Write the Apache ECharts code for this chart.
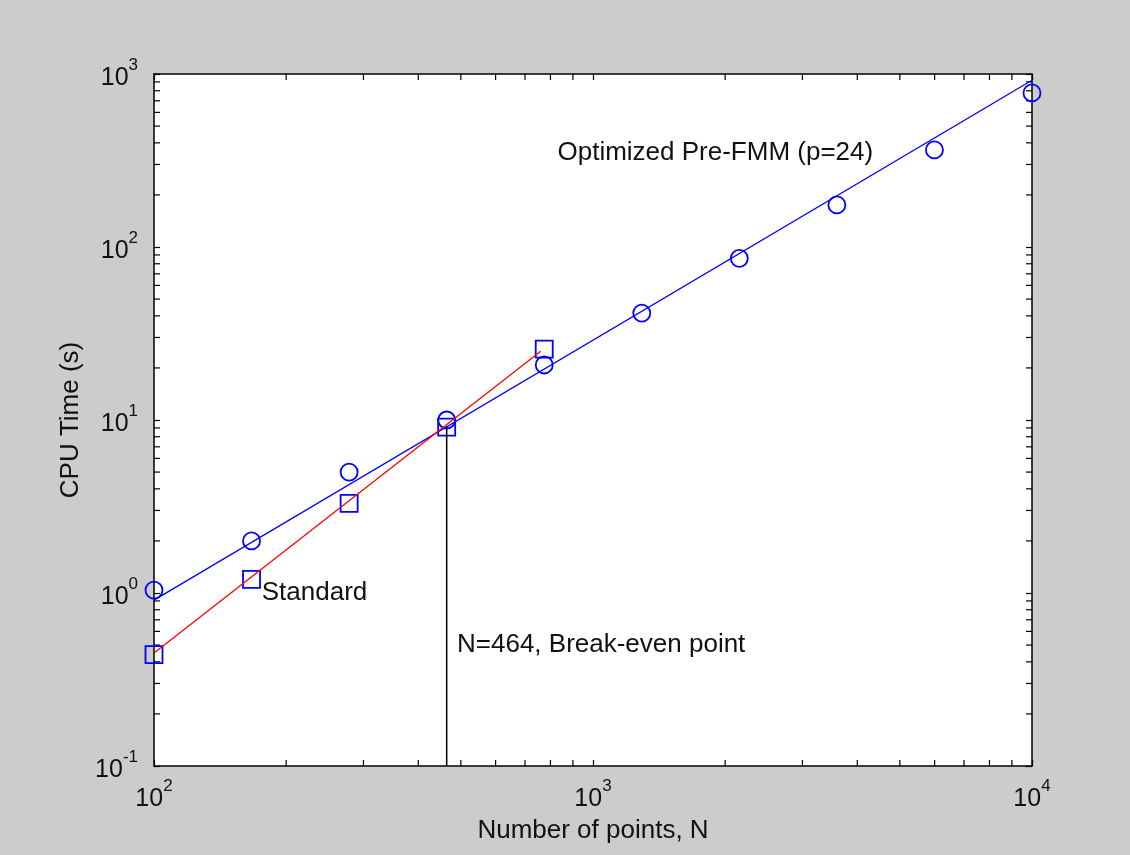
<!DOCTYPE html>
<html>
<head>
<meta charset="utf-8">
<title>CPU time vs number of points</title>
<script src="https://cdn.jsdelivr.net/npm/echarts@6/dist/echarts.min.js"></script>
<style>
  html, body { margin: 0; padding: 0; background: #cccccc; }
  #chart { width: 1130px; height: 855px; }
</style>
</head>
<body>
<div id="chart"></div>
<script>
// number of points (logspace 10^2 .. 10^4)
var nPoints = [100, 166.8, 278.3, 464.2, 774.3, 1291.5, 2154.4, 3593.8, 5994.8, 10000];
// measured CPU time, optimized pre-FMM (circles)
var tOptimized = [1.04, 2.0, 5.0, 10.0, 20.8, 41.5, 86, 175, 364, 777];
// measured CPU time, standard method (squares), first five sizes only
var nStandard = [100, 166.8, 278.3, 464.2, 774.3];
var tStandard = [0.44, 1.2, 3.3, 9.1, 25.7];
// fitted lines, end points
var fitOptimized = [[100, 0.91], [10000, 920]];
var fitStandard = [[100, 0.45], [760, 25]];
// break-even marker line
var breakEven = [[464.2, 0.1], [464.2, 9.2]];

// text annotations (data coordinates, left aligned)
var noteText = ['Optimized Pre-FMM (p=24)', 'Standard', 'N=464, Break-even point'];
var noteN = [830, 176, 490];
var noteT = [350, 1.0, 0.5];

// axis limits and minor tick values
var xRange = [100, 10000];
var yRange = [0.1, 1000];
var xMinor = [200, 300, 400, 500, 600, 700, 800, 900,
              2000, 3000, 4000, 5000, 6000, 7000, 8000, 9000];
var yMinor = [0.2, 0.3, 0.4, 0.5, 0.6, 0.7, 0.8, 0.9,
              2, 3, 4, 5, 6, 7, 8, 9,
              20, 30, 40, 50, 60, 70, 80, 90,
              200, 300, 400, 500, 600, 700, 800, 900];

var FONT = '"Liberation Sans", Arial, sans-serif';
var TXT = '#111111';
var TICK = 6;

function pow10Label(v) {
  var e = Math.round(Math.log10(v));
  return '{b|10}{e|' + e + '}';
}
var powRich = {
  b: { fontSize: 25, fontFamily: FONT, color: TXT, lineHeight: 34, verticalAlign: 'bottom' },
  e: { fontSize: 17, fontFamily: FONT, color: TXT, lineHeight: 17, verticalAlign: 'top' }
};

function logAxis(range, extra) {
  var a = {
    type: 'log',
    logBase: 10,
    min: range[0],
    max: range[1],
    axisLine: { show: true, onZero: false, lineStyle: { color: '#000', width: 1.5 } },
    axisTick: { show: true, inside: true, length: TICK, lineStyle: { color: '#000', width: 1.2 } },
    splitLine: { show: false },
    axisLabel: { show: false }
  };
  for (var k in extra) a[k] = extra[k];
  return a;
}

var chart = echarts.init(document.getElementById('chart'));

var option = {
  animation: false,
  backgroundColor: '#cccccc',
  grid: { left: 154, top: 74, right: 98, bottom: 89, show: true, backgroundColor: '#ffffff', borderWidth: 0 },
  xAxis: [
    logAxis(xRange, {
      position: 'bottom',
      name: 'Number of points, N',
      nameLocation: 'middle',
      nameGap: 52,
      nameTextStyle: { fontSize: 26, fontFamily: FONT, color: TXT },
      axisLabel: { show: true, formatter: pow10Label, rich: powRich, margin: 12, showMinLabel: true, showMaxLabel: true }
    }),
    logAxis(xRange, { position: 'top' })
  ],
  yAxis: [
    logAxis(yRange, {
      position: 'left',
      name: 'CPU Time (s)',
      nameLocation: 'middle',
      nameGap: 68,
      nameTextStyle: { fontSize: 26, fontFamily: FONT, color: TXT },
      axisLabel: { show: true, formatter: pow10Label, rich: powRich, margin: 16, showMinLabel: true, showMaxLabel: true }
    }),
    logAxis(yRange, { position: 'right' })
  ],
  series: [
    {
      // minor ticks on bottom and top edges
      type: 'custom',
      silent: true,
      data: xMinor.map(function (v) { return [v, yRange[0]]; }),
      renderItem: function (params, api) {
        var v = api.value(0);
        var b = api.coord([v, yRange[0]]);
        var t = api.coord([v, yRange[1]]);
        var st = { stroke: '#000', lineWidth: 1.2 };
        return {
          type: 'group',
          children: [
            { type: 'line', shape: { x1: b[0], y1: b[1], x2: b[0], y2: b[1] - TICK }, style: st },
            { type: 'line', shape: { x1: t[0], y1: t[1], x2: t[0], y2: t[1] + TICK }, style: st }
          ]
        };
      }
    },
    {
      // minor ticks on left and right edges
      type: 'custom',
      silent: true,
      data: yMinor.map(function (v) { return [xRange[0], v]; }),
      renderItem: function (params, api) {
        var v = api.value(1);
        var l = api.coord([xRange[0], v]);
        var r = api.coord([xRange[1], v]);
        var st = { stroke: '#000', lineWidth: 1.2 };
        return {
          type: 'group',
          children: [
            { type: 'line', shape: { x1: l[0], y1: l[1], x2: l[0] + TICK, y2: l[1] }, style: st },
            { type: 'line', shape: { x1: r[0], y1: r[1], x2: r[0] - TICK, y2: r[1] }, style: st }
          ]
        };
      }
    },
    {
      type: 'line',
      data: fitOptimized,
      showSymbol: false,
      lineStyle: { color: '#0000ff', width: 1.3 }
    },
    {
      type: 'line',
      data: fitStandard,
      showSymbol: false,
      lineStyle: { color: '#ff0000', width: 1.3 }
    },
    {
      type: 'line',
      data: breakEven,
      showSymbol: false,
      lineStyle: { color: '#000000', width: 1.5 }
    },
    {
      type: 'scatter',
      data: nPoints.map(function (n, i) { return [n, tOptimized[i]]; }),
      symbol: 'circle',
      symbolSize: 17,
      itemStyle: { color: 'none', borderColor: '#0000ff', borderWidth: 1.8, opacity: 1 }
    },
    {
      type: 'scatter',
      data: nStandard.map(function (n, i) { return [n, tStandard[i]]; }),
      symbol: 'rect',
      symbolSize: 17,
      itemStyle: { color: 'none', borderColor: '#0000ff', borderWidth: 1.8, opacity: 1 }
    },
    {
      type: 'scatter',
      data: noteN.map(function (n, i) { return [n, noteT[i]]; }),
      symbolSize: 0,
      silent: true,
      itemStyle: { opacity: 1 },
      label: {
        show: true,
        position: 'right',
        distance: 0,
        fontSize: 26,
        fontFamily: FONT,
        color: TXT,
        opacity: 1,
        formatter: function (p) { return noteText[p.dataIndex]; }
      }
    }
  ]
};

chart.setOption(option);
</script>
</body>
</html>
